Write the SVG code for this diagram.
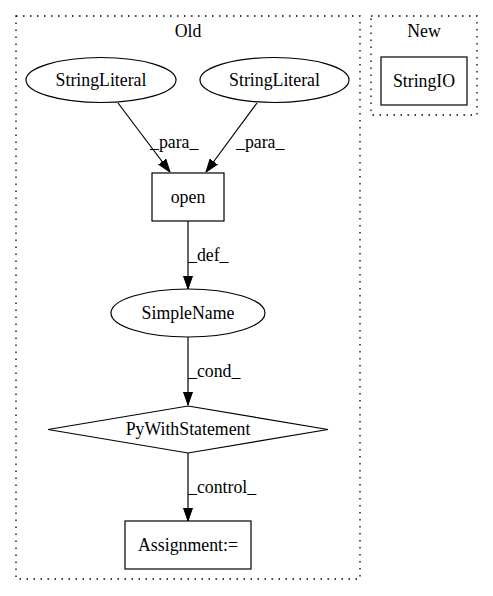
<svg xmlns="http://www.w3.org/2000/svg" width="493" height="596" viewBox="0 0 493 596">
<style>
text{font-family:"Liberation Serif","Times New Roman",serif;font-size:17.8px;fill:#000}
.n{fill:none;stroke:#000;stroke-width:1.2}
.c{fill:none;stroke:#000;stroke-width:1.3;stroke-dasharray:1.5,5.5}
.e{fill:none;stroke:#000;stroke-width:1.2}
.m{text-anchor:middle}
</style>
<defs>
<marker id="a" markerWidth="13" markerHeight="10" refX="13" refY="5" orient="auto" markerUnits="userSpaceOnUse">
<path d="M0,0.5L13,5L0,9.5z" fill="#000" stroke="#000"/>
</marker>
</defs>
<rect width="493" height="596" fill="#fff"/>
<g id="cluster_old">
<rect class="c" x="16" y="16" width="344" height="563"/>
<text class="m" x="188" y="37">Old</text>
</g>
<g id="cluster_new">
<rect class="c" x="371" y="16" width="106" height="99"/>
<text class="m" x="424" y="37">New</text>
</g>
<g id="edges">
<path class="e" d="M118,103L170,172" marker-end="url(#a)"/>
<text x="150" y="148">_para_</text>
<path class="e" d="M257,103L206,172" marker-end="url(#a)"/>
<text x="236" y="148">_para_</text>
<path class="e" d="M188,221L188,289" marker-end="url(#a)"/>
<text x="188" y="261">_def_</text>
<path class="e" d="M188,337L188,405" marker-end="url(#a)"/>
<text x="188" y="377">_cond_</text>
<path class="e" d="M188,453L188,521" marker-end="url(#a)"/>
<text x="188" y="493">_control_</text>
</g>
<g id="n1">
<ellipse class="n" cx="101" cy="80" rx="75" ry="22.5"/>
<text class="m" x="101" y="86">StringLiteral</text>
</g>
<g id="n2">
<ellipse class="n" cx="274.5" cy="80" rx="74.5" ry="22.5"/>
<text class="m" x="274.5" y="86">StringLiteral</text>
</g>
<g id="n3">
<rect class="n" x="152" y="173" width="72" height="48"/>
<text class="m" x="188" y="203">open</text>
</g>
<g id="n4">
<ellipse class="n" cx="188" cy="313" rx="77" ry="24"/>
<text class="m" x="188" y="319">SimpleName</text>
</g>
<g id="n5">
<polygon class="n" points="188,406 328,429.5 188,453 48,429.5"/>
<text class="m" x="188" y="435">PyWithStatement</text>
</g>
<g id="n6">
<rect class="n" x="125" y="521" width="126" height="48"/>
<text class="m" x="188" y="551">Assignment:=</text>
</g>
<g id="n7">
<rect class="n" x="381" y="57" width="86" height="48"/>
<text class="m" x="424" y="87">StringIO</text>
</g>
</svg>
